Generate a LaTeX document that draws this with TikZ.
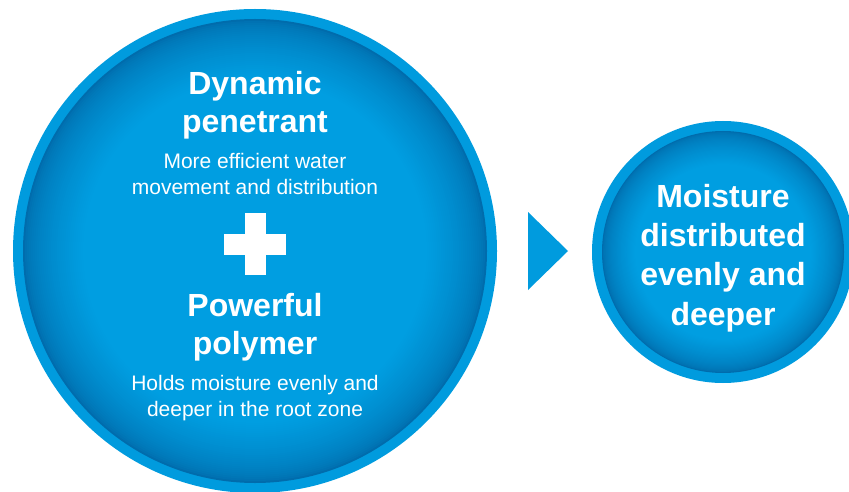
\documentclass[tikz,border=0pt]{standalone}
\usepackage{fontspec}
\setmainfont{Liberation Sans}
\usetikzlibrary{positioning}
\definecolor{ringblue}{RGB}{0,155,222}
\definecolor{coreblue}{RGB}{0,158,225}
\definecolor{rimblue}{RGB}{0,108,172}
\begin{document}
\begin{tikzpicture}[x=1pt,y=1pt,
    ring/.style={circle,fill=ringblue,inner sep=0pt},
    core/.style={circle,fill=rimblue,inner sep=0pt},
    head/.style={text=white,font=\bfseries\fontsize{32}{38.5}\selectfont,align=center},
    body/.style={text=white,font=\fontsize{21}{26}\selectfont,align=center},
    bar/.style={fill=white,inner sep=0pt}]
    \useasboundingbox (0,0) rectangle (849,491);
    % left drop
    \node[ring,minimum size=484pt] (bigring) at (255,240) {};
    \node[core,minimum size=464pt] (bigcore) at (bigring.center) {};
    \foreach \k in {1,...,30}{
        \colorlet{shadeblue}{coreblue!\fpeval{100*(\k/30)^0.6}!rimblue}
        \fill[shadeblue] (bigcore.center) circle[radius=232-2*\k];
    }
    % right drop
    \node[ring,minimum size=262pt] (smallring) at (723,239) {};
    \node[core,minimum size=242pt] (smallcore) at (smallring.center) {};
    \foreach \k in {1,...,30}{
        \colorlet{shadeblue}{coreblue!\fpeval{100*(\k/30)^0.6}!rimblue}
        \fill[shadeblue] (smallcore.center) circle[radius=121-1.1*\k];
    }
    % arrow
    \fill[ringblue] (528,279) -- (568,240) -- (528,201) -- cycle;
    % plus
    \node[bar,minimum width=62pt,minimum height=21pt] (plush) at (255,247) {};
    \node[bar,minimum width=21pt,minimum height=62pt] (plusv) at (plush.center) {};
    \node[head] (dyn) at (255,386) {Dynamic\\penetrant};
    \node[body] (dyntxt) at (255,317) {More efficient water\\movement and distribution};
    \node[head] (poly) at (255,164) {Powerful\\polymer};
    \node[body] (polytxt) at (255,93) {Holds moisture evenly and\\deeper in the root zone};
    \node[head,font=\bfseries\fontsize{32}{39.3}\selectfont] (result) at (723,233) {Moisture\\distributed\\evenly and\\deeper};
\end{tikzpicture}
\end{document}
